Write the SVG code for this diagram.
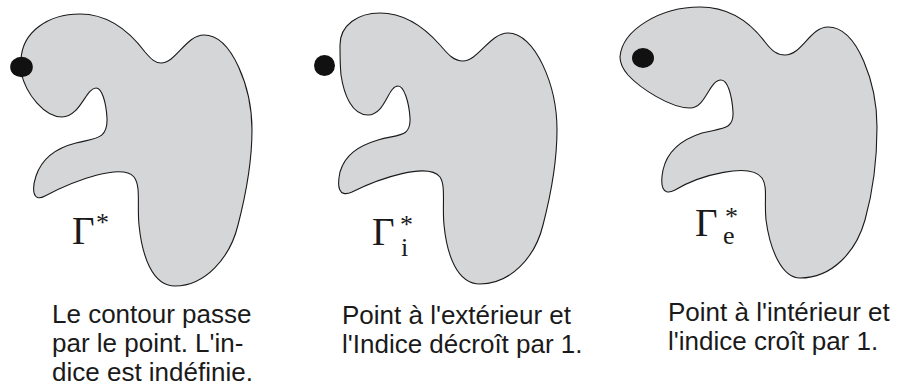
<svg xmlns="http://www.w3.org/2000/svg" width="902" height="391" viewBox="0 0 902 391">
<style>
.blob{fill:#d5d6d8;stroke:#1a1a1a;stroke-width:1.1;stroke-linejoin:round}
.dot{fill:#111}
.gam{font-family:"Liberation Serif","Times New Roman",serif;font-size:39px;fill:#1a1a1a}
.idx{font-size:26px}
.cap{font-family:"Liberation Sans",Arial,Helvetica,sans-serif;font-size:26px;fill:#1a1a1a}
</style>
<rect width="902" height="391" fill="#fff"/>
<g id="connectors"/>
<g id="case-on-contour">
<path class="blob" d="M21,60 C22,32 48,14 80,14 C108,14 130,32 145,52 C151,59 155,63 161,63 C176,63 186,35 204,35 C232,35 252,88 252,130 C252,165 245,198 238,225 C230,258 205,286 175,286 C152,286 142,255 139,225 C137,205 141,186 134,177 C122,163 75,180 45,196 C32,203 32,188 36,176 C42,158 56,148 76,143 C95,138 108,140 107,118 C106,102 102,88 96,88 C86,88 80,117 62,117 C45,117 26,95 21,72 Z"/>
<ellipse class="dot" cx="21.5" cy="67" rx="11.3" ry="10.2"/>
<text class="gam" x="72" y="244">Γ<tspan class="idx" x="96" y="231">*</tspan></text>
<text class="cap" x="52" y="323">Le contour passe</text>
<text class="cap" x="52" y="352">par le point. L'in-</text>
<text class="cap" x="52" y="381">dice est indéfinie.</text>
</g>
<g id="case-exterior">
<path class="blob" d="M340,45 C340,25 358,13 380,13 C405,13 425,28 440,45 C447,53 453,61 463,61 C478,61 490,33 508,33 C535,33 557,85 557,130 C557,165 550,198 543,225 C535,258 510,284 480,284 C457,284 447,255 444,225 C442,205 446,186 440,177 C428,162 380,178 352,192 C338,198 337,186 340,172 C345,155 358,146 378,140 C398,134 411,138 410,118 C409,102 404,86 398,86 C388,86 385,115 368,115 C352,115 344,95 341,75 C340,65 340,55 340,45 Z"/>
<circle class="dot" cx="324.5" cy="65.5" r="10.5"/>
<text class="gam" x="372" y="245">Γ<tspan class="idx" x="400" y="233">*</tspan><tspan class="idx" x="401" y="256">i</tspan></text>
<text class="cap" x="342" y="324">Point à l'extérieur et</text>
<text class="cap" x="342" y="353">l'Indice décroît par 1.</text>
</g>
<g id="case-interior">
<path class="blob" d="M620,57 C622,30 660,7 700,7 C730,7 750,22 765,42 C772,51 777,55 785,55 C802,55 810,27 828,27 C858,27 877,85 877,127 C877,160 872,195 865,220 C856,252 832,278 800,278 C782,278 770,250 766,220 C764,200 768,187 762,178 C750,162 700,175 675,190 C662,197 660,185 663,170 C667,152 680,140 702,133 C722,128 734,130 733,112 C732,96 728,80 721,80 C709,80 706,108 690,108 C670,108 640,88 628,75 C622,68 620,63 620,57 Z"/>
<ellipse class="dot" cx="643" cy="58" rx="11" ry="10"/>
<text class="gam" x="695" y="236">Γ<tspan class="idx" x="725" y="225">*</tspan><tspan class="idx" x="723" y="244">e</tspan></text>
<text class="cap" x="668" y="321">Point à l'intérieur et</text>
<text class="cap" x="668" y="350">l'indice croît par 1.</text>
</g>
</svg>
